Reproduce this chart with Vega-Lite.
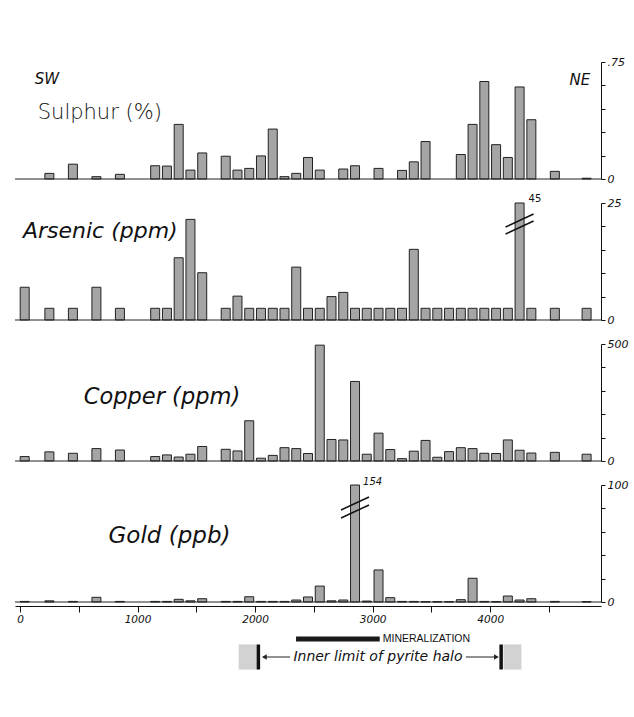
{
  "$schema": "https://vega.github.io/schema/vega-lite/v6.json",
  "background": "white",
  "padding": {"left": 14, "top": 56, "right": 5, "bottom": 5},
  "spacing": 24,
  "bounds": "flush",
  "config": {
    "view": {"stroke": null},
    "font": "DejaVu Sans",
    "axis": {
      "domainColor": "#111",
      "tickColor": "#111",
      "labelColor": "#111",
      "labelFont": "DejaVu Sans",
      "labelFontStyle": "italic",
      "labelFontSize": 11,
      "labelOverlap": false,
      "labelFlush": false,
      "grid": false,
      "title": null
    }
  },
  "datasets": {
    "assay": [
      {"pos": 40, "sulphur": null, "arsenic": 7.0, "copper": 19, "gold": 0.5},
      {"pos": 250, "sulphur": 0.036, "arsenic": 2.5, "copper": 39, "gold": 1},
      {"pos": 450, "sulphur": 0.095, "arsenic": 2.5, "copper": 33, "gold": 0.5},
      {"pos": 650, "sulphur": 0.015, "arsenic": 7.0, "copper": 53, "gold": 4},
      {"pos": 850, "sulphur": 0.03, "arsenic": 2.5, "copper": 47, "gold": 0.5},
      {"pos": 1150, "sulphur": 0.085, "arsenic": 2.5, "copper": 19, "gold": 0.5},
      {"pos": 1250, "sulphur": 0.083, "arsenic": 2.5, "copper": 26, "gold": 0.5},
      {"pos": 1350, "sulphur": 0.35, "arsenic": 13.3, "copper": 17, "gold": 2.3},
      {"pos": 1450, "sulphur": 0.057, "arsenic": 21.5, "copper": 29, "gold": 1},
      {"pos": 1550, "sulphur": 0.167, "arsenic": 10.1, "copper": 62, "gold": 2.8},
      {"pos": 1750, "sulphur": 0.146, "arsenic": 2.5, "copper": 50, "gold": 0.5},
      {"pos": 1850, "sulphur": 0.057, "arsenic": 5.1, "copper": 43, "gold": 0.5},
      {"pos": 1950, "sulphur": 0.068, "arsenic": 2.5, "copper": 172, "gold": 4.5},
      {"pos": 2050, "sulphur": 0.148, "arsenic": 2.5, "copper": 12, "gold": 0.5},
      {"pos": 2150, "sulphur": 0.32, "arsenic": 2.5, "copper": 24, "gold": 0.5},
      {"pos": 2250, "sulphur": 0.015, "arsenic": 2.5, "copper": 57, "gold": 0.5},
      {"pos": 2350, "sulphur": 0.036, "arsenic": 11.3, "copper": 53, "gold": 1.7},
      {"pos": 2450, "sulphur": 0.138, "arsenic": 2.5, "copper": 32, "gold": 4.3},
      {"pos": 2550, "sulphur": 0.057, "arsenic": 2.5, "copper": 495, "gold": 13.6},
      {"pos": 2650, "sulphur": null, "arsenic": 5.0, "copper": 92, "gold": 1},
      {"pos": 2750, "sulphur": 0.064, "arsenic": 5.9, "copper": 90, "gold": 1.7},
      {"pos": 2850, "sulphur": 0.085, "arsenic": 2.5, "copper": 340, "gold": 154},
      {"pos": 2950, "sulphur": null, "arsenic": 2.5, "copper": 29, "gold": 0.8},
      {"pos": 3050, "sulphur": 0.068, "arsenic": 2.5, "copper": 119, "gold": 27.4},
      {"pos": 3150, "sulphur": null, "arsenic": 2.5, "copper": 49, "gold": 3.7},
      {"pos": 3250, "sulphur": 0.055, "arsenic": 2.5, "copper": 10, "gold": 0.5},
      {"pos": 3350, "sulphur": 0.11, "arsenic": 15.1, "copper": 42, "gold": 0.5},
      {"pos": 3450, "sulphur": 0.24, "arsenic": 2.5, "copper": 88, "gold": 0.3},
      {"pos": 3550, "sulphur": null, "arsenic": 2.5, "copper": 16, "gold": 0.3},
      {"pos": 3650, "sulphur": null, "arsenic": 2.5, "copper": 40, "gold": 0.3},
      {"pos": 3750, "sulphur": 0.157, "arsenic": 2.5, "copper": 57, "gold": 2},
      {"pos": 3850, "sulphur": 0.35, "arsenic": 2.5, "copper": 53, "gold": 20.3},
      {"pos": 3950, "sulphur": 0.625, "arsenic": 2.5, "copper": 33, "gold": 0.5},
      {"pos": 4050, "sulphur": 0.22, "arsenic": 2.5, "copper": 32, "gold": 0.3},
      {"pos": 4150, "sulphur": 0.138, "arsenic": 2.5, "copper": 90, "gold": 5.1},
      {"pos": 4250, "sulphur": 0.59, "arsenic": 45, "copper": 46, "gold": 1.7},
      {"pos": 4350, "sulphur": 0.38, "arsenic": 2.5, "copper": 34, "gold": 2.8},
      {"pos": 4550, "sulphur": 0.049, "arsenic": 2.5, "copper": 37, "gold": 0.5},
      {"pos": 4820, "sulphur": 0.005, "arsenic": 2.5, "copper": 29, "gold": 0.3}
    ],
    "annot": [
      {"kind": "bar", "row": "min", "start": 2350, "end": 3050},
      {"kind": "label", "row": "min", "at": 3075, "text": "MINERALIZATION"},
      {"kind": "zone", "row": "halo", "start": 1870, "end": 2020},
      {"kind": "zone", "row": "halo", "start": 4085, "end": 4235},
      {"kind": "limit", "row": "halo", "at": 2035},
      {"kind": "limit", "row": "halo", "at": 4065},
      {"kind": "arrow", "row": "halo", "start": 2075, "end": 2300, "tip": 2085, "dir": "left"},
      {"kind": "arrow", "row": "halo", "start": 3770, "end": 4035, "tip": 4025, "dir": "right"},
      {"kind": "halo", "row": "halo", "at": 3035, "text": "Inner limit of pyrite halo"}
    ]
  },
  "vconcat": [
    {
      "width": 586, "height": 117,
      "layer": [
        {
          "data": {"name": "assay"},
          "mark": {"type": "bar", "width": 9, "fill": "#a5a5a5", "stroke": "#222", "strokeWidth": 1},
          "encoding": {
            "x": {"field": "pos", "type": "quantitative", "scale": {"domain": [0, 4900], "nice": false, "zero": false}, "axis": null},
            "y": {"field": "sulphur", "type": "quantitative", "scale": {"domain": [0, 0.75], "nice": false},
                  "axis": {"orient": "right", "values": [0, 0.15, 0.3, 0.45, 0.6, 0.75], "tickCount": 12, "tickSize": 4, "labelPadding": 2,
                           "labelExpr": "datum.value == 0 ? '0' : (datum.value > 0.7 ? '.75' : '')"}}
          }
        },
        {"data": {"values": [{}]}, "mark": {"type": "rule", "color": "#222"}, "encoding": {"y": {"datum": 0}}},
        {"data": {"values": [{"t": "Sulphur (%)"}]},
         "mark": {"type": "text", "align": "left", "baseline": "middle", "fontSize": 21, "font": "DejaVu Sans", "fontWeight": 300, "color": "#111"},
         "encoding": {"x": {"datum": 151}, "y": {"datum": 0.42}, "text": {"field": "t"}}},
        {"data": {"values": [{"t": "SW"}]},
         "mark": {"type": "text", "align": "left", "baseline": "middle", "fontSize": 15, "fontStyle": "italic", "font": "DejaVu Sans", "fontWeight": 300, "color": "#111"},
         "encoding": {"x": {"datum": 126}, "y": {"datum": 0.642}, "text": {"field": "t"}}},
        {"data": {"values": [{"t": "NE"}]},
         "mark": {"type": "text", "align": "right", "baseline": "middle", "fontSize": 15, "fontStyle": "italic", "font": "DejaVu Sans", "fontWeight": 300, "color": "#111"},
         "encoding": {"x": {"datum": 4850}, "y": {"datum": 0.636}, "text": {"field": "t"}}}
      ]
    },
    {
      "width": 586, "height": 117,
      "layer": [
        {
          "data": {"name": "assay"},
          "mark": {"type": "bar", "width": 9, "fill": "#a5a5a5", "stroke": "#222", "strokeWidth": 1},
          "encoding": {
            "x": {"field": "pos", "type": "quantitative", "scale": {"domain": [0, 4900], "nice": false, "zero": false}, "axis": null},
            "y": {"field": "arsenic", "type": "quantitative", "scale": {"domain": [0, 25], "nice": false, "clamp": true},
                  "axis": {"orient": "right", "values": [0, 5, 10, 15, 20, 25], "tickCount": 12, "tickSize": 4, "labelPadding": 2,
                           "labelExpr": "datum.value == 0 || datum.value == 25 ? datum.label : ''"}}
          }
        },
        {"data": {"values": [{}]}, "mark": {"type": "rule", "color": "#222"}, "encoding": {"y": {"datum": 0}}},
        {"data": {"name": "assay"}, "transform": [{"filter": "datum.arsenic > 25"}],
         "mark": {"type": "rule", "color": "#111", "strokeWidth": 1.5, "xOffset": -14, "x2Offset": 14, "yOffset": 24, "y2Offset": 11},
         "encoding": {"x": {"field": "pos", "type": "quantitative"}, "x2": {"field": "pos"}, "y": {"field": "arsenic", "type": "quantitative"}, "y2": {"field": "arsenic"}}},
        {"data": {"name": "assay"}, "transform": [{"filter": "datum.arsenic > 25"}],
         "mark": {"type": "rule", "color": "#111", "strokeWidth": 1.5, "xOffset": -14, "x2Offset": 14, "yOffset": 31, "y2Offset": 18},
         "encoding": {"x": {"field": "pos", "type": "quantitative"}, "x2": {"field": "pos"}, "y": {"field": "arsenic", "type": "quantitative"}, "y2": {"field": "arsenic"}}},
        {"data": {"name": "assay"}, "transform": [{"filter": "datum.arsenic > 25"}],
         "mark": {"type": "text", "align": "left", "baseline": "bottom", "dx": 9, "dy": 1, "fontSize": 10, "color": "#111"},
         "encoding": {"x": {"field": "pos", "type": "quantitative"}, "y": {"field": "arsenic", "type": "quantitative"}, "text": {"field": "arsenic"}}},
        {"data": {"values": [{"t": "Arsenic (ppm)"}]},
         "mark": {"type": "text", "align": "left", "baseline": "middle", "fontSize": 22, "fontStyle": "italic", "font": "DejaVu Sans", "fontWeight": 300, "color": "#111"},
         "encoding": {"x": {"datum": 25}, "y": {"datum": 19}, "text": {"field": "t"}}}
      ]
    },
    {
      "width": 586, "height": 117,
      "layer": [
        {
          "data": {"name": "assay"},
          "mark": {"type": "bar", "width": 9, "fill": "#a5a5a5", "stroke": "#222", "strokeWidth": 1},
          "encoding": {
            "x": {"field": "pos", "type": "quantitative", "scale": {"domain": [0, 4900], "nice": false, "zero": false}, "axis": null},
            "y": {"field": "copper", "type": "quantitative", "scale": {"domain": [0, 500], "nice": false},
                  "axis": {"orient": "right", "values": [0, 100, 200, 300, 400, 500], "tickCount": 12, "tickSize": 4, "labelPadding": 2,
                           "labelExpr": "datum.value == 0 || datum.value == 500 ? datum.label : ''"}}
          }
        },
        {"data": {"values": [{}]}, "mark": {"type": "rule", "color": "#222"}, "encoding": {"y": {"datum": 0}}},
        {"data": {"values": [{"t": "Copper (ppm)"}]},
         "mark": {"type": "text", "align": "left", "baseline": "middle", "fontSize": 22.5, "fontStyle": "italic", "font": "DejaVu Sans", "fontWeight": 300, "color": "#111"},
         "encoding": {"x": {"datum": 543}, "y": {"datum": 272}, "text": {"field": "t"}}}
      ]
    },
    {
      "width": 586, "height": 117,
      "layer": [
        {
          "data": {"name": "assay"},
          "mark": {"type": "bar", "width": 9, "fill": "#a5a5a5", "stroke": "#222", "strokeWidth": 1},
          "encoding": {
            "x": {"field": "pos", "type": "quantitative", "scale": {"domain": [0, 4900], "nice": false, "zero": false},
                  "axis": {"values": [0, 500, 1000, 1500, 2000, 2500, 3000, 3500, 4000, 4500], "tickCount": 20, "format": "d", "offset": 4, "tickSize": 6,
                           "labelFontSize": 10.5, "labelPadding": 2,
                           "labelExpr": "datum.value % 1000 == 0 ? datum.label : ''"}},
            "y": {"field": "gold", "type": "quantitative", "scale": {"domain": [0, 100], "nice": false, "clamp": true},
                  "axis": {"orient": "right", "values": [0, 20, 40, 60, 80, 100], "tickCount": 12, "tickSize": 4, "labelPadding": 2,
                           "labelExpr": "datum.value == 0 || datum.value == 100 ? datum.label : ''"}}
          }
        },
        {"data": {"values": [{}]}, "mark": {"type": "rule", "color": "#222"}, "encoding": {"y": {"datum": 0}}},
        {"data": {"name": "assay"}, "transform": [{"filter": "datum.gold > 100"}],
         "mark": {"type": "rule", "color": "#111", "strokeWidth": 1.5, "xOffset": -14, "x2Offset": 14, "yOffset": 25, "y2Offset": 12},
         "encoding": {"x": {"field": "pos", "type": "quantitative"}, "x2": {"field": "pos"}, "y": {"field": "gold", "type": "quantitative"}, "y2": {"field": "gold"}}},
        {"data": {"name": "assay"}, "transform": [{"filter": "datum.gold > 100"}],
         "mark": {"type": "rule", "color": "#111", "strokeWidth": 1.5, "xOffset": -14, "x2Offset": 14, "yOffset": 33, "y2Offset": 20},
         "encoding": {"x": {"field": "pos", "type": "quantitative"}, "x2": {"field": "pos"}, "y": {"field": "gold", "type": "quantitative"}, "y2": {"field": "gold"}}},
        {"data": {"name": "assay"}, "transform": [{"filter": "datum.gold > 100"}],
         "mark": {"type": "text", "align": "left", "baseline": "bottom", "dx": 8, "dy": 2, "fontSize": 10, "fontStyle": "italic", "color": "#111"},
         "encoding": {"x": {"field": "pos", "type": "quantitative"}, "y": {"field": "gold", "type": "quantitative"}, "text": {"field": "gold"}}},
        {"data": {"values": [{"t": "Gold (ppb)"}]},
         "mark": {"type": "text", "align": "left", "baseline": "middle", "fontSize": 23, "fontStyle": "italic", "font": "DejaVu Sans", "fontWeight": 300, "color": "#111"},
         "encoding": {"x": {"datum": 753}, "y": {"datum": 56}, "text": {"field": "t"}}}
      ]
    },
    {
      "width": 586, "height": 44,
      "data": {"name": "annot"},
      "encoding": {
        "y": {"field": "row", "type": "nominal", "scale": {"domain": ["min", "halo"], "paddingOuter": 0.222, "paddingInner": 0}, "axis": null}
      },
      "layer": [
        {"transform": [{"filter": "datum.kind == 'zone'"}],
         "mark": {"type": "bar", "fill": "#d2d2d2", "height": {"band": 1.4}},
         "encoding": {"x": {"field": "start", "type": "quantitative", "scale": {"domain": [0, 4900], "nice": false, "zero": false}, "axis": null}, "x2": {"field": "end"}}},
        {"transform": [{"filter": "datum.kind == 'bar'"}],
         "mark": {"type": "rule", "color": "#1a1a1a", "strokeWidth": 5},
         "encoding": {"x": {"field": "start", "type": "quantitative"}, "x2": {"field": "end"}}},
        {"transform": [{"filter": "datum.kind == 'limit'"}],
         "mark": {"type": "tick", "orient": "vertical", "size": 25, "thickness": 3.5, "color": "#111", "opacity": 1},
         "encoding": {"x": {"field": "at", "type": "quantitative"}}},
        {"transform": [{"filter": "datum.kind == 'arrow'"}],
         "mark": {"type": "rule", "color": "#222", "strokeWidth": 1},
         "encoding": {"x": {"field": "start", "type": "quantitative"}, "x2": {"field": "end"}}},
        {"transform": [{"filter": "datum.kind == 'arrow'"}],
         "mark": {"type": "point", "filled": true, "color": "#222", "size": 30, "opacity": 1},
         "encoding": {"x": {"field": "tip", "type": "quantitative"},
                      "shape": {"field": "dir", "type": "nominal", "scale": {"domain": ["left", "right"], "range": ["triangle-left", "triangle-right"]}, "legend": null}}},
        {"transform": [{"filter": "datum.kind == 'label'"}],
         "mark": {"type": "text", "align": "left", "baseline": "middle", "font": "Liberation Sans", "fontSize": 10.5, "color": "#111"},
         "encoding": {"x": {"field": "at", "type": "quantitative"}, "text": {"field": "text"}}},
        {"transform": [{"filter": "datum.kind == 'halo'"}],
         "mark": {"type": "text", "align": "center", "baseline": "middle", "fontSize": 14, "fontStyle": "italic", "font": "DejaVu Sans", "fontWeight": 300, "color": "#111"},
         "encoding": {"x": {"field": "at", "type": "quantitative"}, "text": {"field": "text"}}}
      ]
    }
  ]
}
